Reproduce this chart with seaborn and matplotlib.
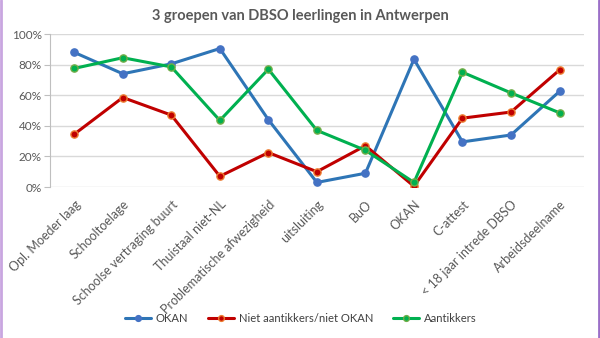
import pandas as pd
import matplotlib.pyplot as plt
import seaborn as sns

# Categorieën en waarden (in %)
categorieen = ['Opl. Moeder laag', 'Schooltoelage', 'Schoolse vertraging buurt',
               'Thuistaal niet-NL', 'Problematische afwezigheid', 'uitsluiting',
               'BuO', 'OKAN', 'C-attest', '< 18 jaar intrede DBSO', 'Arbeidsdeelname']
okan = [88, 74, 80.5, 90.5, 44, 3, 9, 83.5, 29.5, 34, 62.5]
niet_aantikkers = [34.5, 58.5, 47, 7, 22.5, 10, 27, 0.5, 45, 49, 76.5]
aantikkers = [77.5, 84.5, 78.5, 43.5, 77, 37, 24, 3, 75, 61.5, 48.5]

reeksen = ['OKAN', 'Niet aantikkers/niet OKAN', 'Aantikkers']
lijnkleuren = ['#2E75B6', '#C00000', '#00B050']
markerkleuren = ['#4472C4', '#C00000', '#00B050']
randkleuren = ['#4472C4', '#ED7D31', '#70AD47']

df = pd.DataFrame({
    'x': list(range(len(categorieen))) * 3,
    'waarde': okan + niet_aantikkers + aantikkers,
    'reeks': [r for r in reeksen for _ in categorieen],
})

sns.set_style('white')
plt.rcParams['font.family'] = ['Lato', 'DejaVu Sans']

fig = plt.figure(figsize=(6, 3.38), dpi=100)
ax = fig.add_axes([0.0833, 0.4467, 0.8897, 0.4527])

for reeks, lk, mk, rk in zip(reeksen, lijnkleuren, markerkleuren, randkleuren):
    sns.lineplot(data=df[df['reeks'] == reeks], x='x', y='waarde', color=lk,
                 linewidth=2.2, marker='o', markersize=5.2, markerfacecolor=mk,
                 markeredgecolor=rk, markeredgewidth=1, label=reeks, ax=ax, zorder=3)

ax.set_xlim(-0.5, len(categorieen) - 0.5)
ax.set_ylim(0, 100)
ax.set_yticks([0, 20, 40, 60, 80, 100])
ax.set_yticklabels([f'{v}%' for v in [0, 20, 40, 60, 80, 100]], color='#595959', fontsize=8.5)
ax.set_xticks(range(len(categorieen)))
ax.set_xticklabels(categorieen, rotation=45, ha='right', rotation_mode='anchor',
                   color='#595959', fontsize=9)
ax.set_xlabel('')
ax.set_ylabel('')
ax.grid(axis='y', color='#D9D9D9', linewidth=1)
ax.set_axisbelow(True)
for s in ['top', 'right', 'bottom']:
    ax.spines[s].set_visible(False)
ax.spines['left'].set_color('#BFBFBF')
ax.tick_params(axis='y', which='both', left=True, length=4, color='#BFBFBF', pad=2)
ax.tick_params(axis='x', length=0, pad=8)

fig.text(0.5, 0.952, '3 groepen van DBSO leerlingen in Antwerpen', ha='center',
         va='center', fontsize=10.5, fontweight='bold', color='#595959')

ax.legend(loc='center', bbox_to_anchor=(0.47, -0.86), ncol=3, frameon=False,
          fontsize=8.1, handlelength=2.3, handletextpad=0.4, columnspacing=1.8,
          markerscale=0.8, labelcolor='#404040')

# paarse rand links en rechts
fig.add_artist(plt.Line2D([0.001, 0.001], [0, 1], color='#C9A6E0', linewidth=2))
fig.add_artist(plt.Line2D([0.998, 0.998], [0, 1], color='#9B6FC8', linewidth=2))

fig.savefig('out.png', dpi=100)
